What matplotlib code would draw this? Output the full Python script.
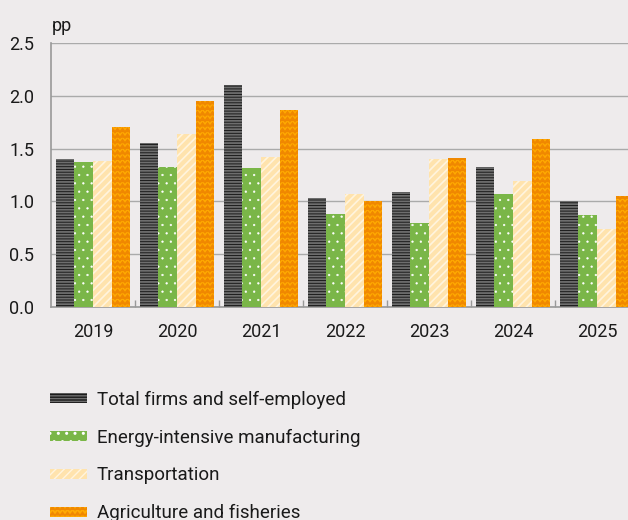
import warnings
import numpy as np
import matplotlib
matplotlib.use("Agg")
import matplotlib.pyplot as plt
from matplotlib import hatch as mhatch
from matplotlib.path import Path

warnings.filterwarnings('ignore')
plt.rcParams['font.family'] = ['Roboto', 'DejaVu Sans']


# zigzag hatch, one row of teeth per 'z' per density step
class ZigzagHatch(mhatch.HatchPatternBase):
    def __init__(self, hatch, density):
        self.num_lines = int(hatch.count('z') * density)
        self.teeth = 20
        self.num_vertices = self.num_lines * (2 * self.teeth + 1)

    def set_vertices_and_codes(self, vertices, codes):
        n = 2 * self.teeth + 1
        xs = np.linspace(0, 1, n)
        amp = 0.3 / self.num_lines
        for k in range(self.num_lines):
            y0 = (k + 0.5) / self.num_lines
            ys = y0 + np.where(np.arange(n) % 2 == 0, -amp, amp)
            vertices[k * n:(k + 1) * n, 0] = xs
            vertices[k * n:(k + 1) * n, 1] = ys
            codes[k * n] = Path.MOVETO
            codes[k * n + 1:(k + 1) * n] = Path.LINETO


mhatch._hatch_types.append(ZigzagHatch)

years = ['2019', '2020', '2021', '2022', '2023', '2024', '2025']
total_firms = [1.40, 1.55, 2.10, 1.03, 1.09, 1.33, 1.00]
energy_manuf = [1.37, 1.33, 1.32, 0.88, 0.80, 1.07, 0.87]
transport = [1.38, 1.64, 1.42, 1.07, 1.40, 1.19, 0.74]
agriculture = [1.70, 1.95, 1.86, 1.00, 1.41, 1.59, 1.05]

labels = ['Total firms and self-employed', 'Energy-intensive manufacturing',
          'Transportation', 'Agriculture and fisheries']
# fill colour, hatch colour, hatch pattern, hatch line width
styles = [('#1b1b1b', '#6e6e6e', '------', 1.3),
          ('#7ab648', '#ffffff', '..', 0.4),
          ('#ffe3ad', '#fff4de', '////', 1.2),
          ('#ffaa00', '#f08800', 'zzz', 1.4)]

bg = '#eeebec'
fig = plt.figure(figsize=(6.28, 5.2), dpi=100, facecolor=bg)
ax = fig.add_axes([51 / 628, 212.7 / 520, 588 / 628, 264.6 / 520])
ax.set_facecolor(bg)

x = np.arange(len(years))
w = 0.222
series = [total_firms, energy_manuf, transport, agriculture]
handles = []
for i, (vals, lab, (fc, hc, hat, hlw)) in enumerate(zip(series, labels, styles)):
    with plt.rc_context({'hatch.linewidth': hlw}):
        b = ax.bar(x + (i - 1.5) * w, vals, width=w, color=fc, edgecolor=hc,
                   linewidth=0, hatch=hat, label=lab, zorder=3)
    handles.append(b)

ax.set_xlim(-0.5, len(years) - 0.5)
ax.set_ylim(0, 2.5)
ax.set_yticks(np.arange(0, 2.51, 0.5))
ax.set_yticklabels(['%.1f' % v for v in np.arange(0, 2.51, 0.5)])
ax.set_xticks(x)
ax.set_xticklabels(years)
ax.set_xticks(x[:-1] + 0.5, minor=True)
ax.tick_params(axis='x', which='major', length=0, pad=11, labelsize=13, colors='#1a1a1a')
ax.tick_params(axis='x', which='minor', direction='in', length=5, width=1, color='#999999')
ax.tick_params(axis='y', length=0, pad=12, labelsize=13, colors='#1a1a1a')
ax.grid(axis='y', color='#aaaaaa', linewidth=1, zorder=0)

for s in ['top', 'right']:
    ax.spines[s].set_visible(False)
for s in ['left', 'bottom']:
    ax.spines[s].set_color('#999999')
    ax.spines[s].set_linewidth(1.2)

fig.text(52 / 628, 1 - 31 / 520, 'pp', fontsize=13, color='#1a1a1a', va='baseline')

with plt.rc_context({'hatch.linewidth': 1.0}):
    fig.legend(handles, labels, loc='upper left', bbox_to_anchor=(33 / 628, 1 - 374 / 520),
               frameon=False, fontsize=13.5, handlelength=2.0, handleheight=0.45,
               handletextpad=0.5, labelspacing=1.05, labelcolor='#1a1a1a')

fig.savefig('out.png', dpi=100, facecolor=bg)
